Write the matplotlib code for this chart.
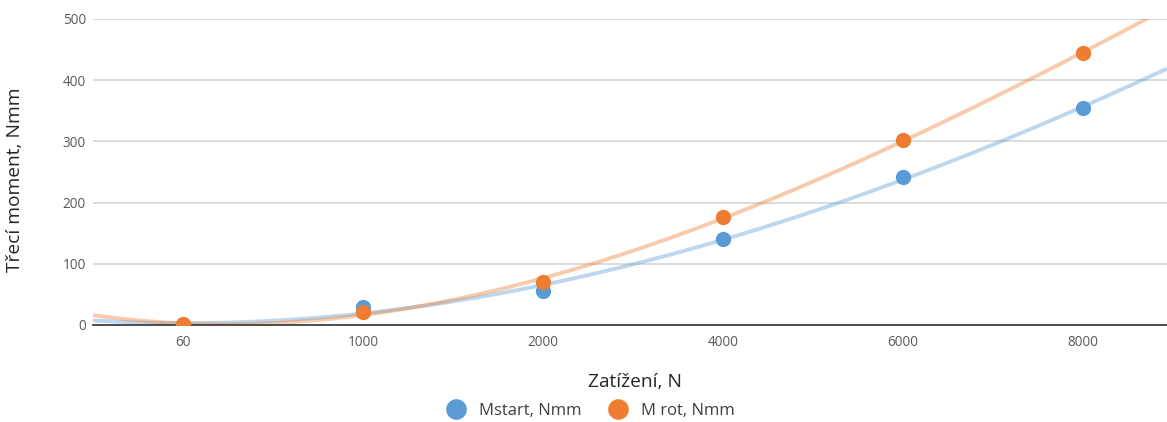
import numpy as np
import matplotlib
matplotlib.use("Agg")
import matplotlib.pyplot as plt

categories = ["60", "1000", "2000", "4000", "6000", "8000"]
mstart = [0, 29, 55, 140, 242, 355]
mrot = [1, 22, 70, 176, 302, 445]

blue = "#5B9BD5"
orange = "#ED7D31"
plt.rcParams['font.family'] = ['Open Sans', 'DejaVu Sans']

W, H = 1167, 422
fig = plt.figure(figsize=(W / 100, H / 100), dpi=100)
ax = fig.add_axes([93 / W, (H - 325) / H, 1 - 93 / W, (325 - 19) / H])

x = np.arange(len(categories))
xmin, xmax = -0.5, (W - 183) / 180
xs = np.linspace(xmin, xmax, 400)

for vals, col, lab in [(mstart, blue, "Mstart, Nmm"), (mrot, orange, "M rot, Nmm")]:
    # Excel-style polynomial (order 3) trendline on category index 1..n
    idx = x + 1
    coef = np.polyfit(idx, vals, 3)
    ax.plot(xs, np.polyval(coef, xs + 1), color=col, alpha=0.4, lw=2.8, zorder=2,
            solid_capstyle='butt')
    ax.plot(x, vals, 'o', color=col, ms=11, label=lab, zorder=3, markeredgewidth=0)

ax.set_xlim(xmin, xmax)
ax.set_ylim(0, 500)
ax.set_yticks(range(0, 501, 100))
ax.set_xticks(x)
ax.set_xticklabels(categories)
ax.grid(axis='y', color='#d9d9d9', lw=1.3)
ax.set_axisbelow(True)
for s in ['top', 'right', 'left']:
    ax.spines[s].set_visible(False)
ax.spines['bottom'].set_color('#404040')
ax.spines['bottom'].set_linewidth(1.3)
ax.tick_params(axis='both', length=0, labelsize=9.8, colors='#595959')
ax.tick_params(axis='y', pad=5)
ax.tick_params(axis='x', pad=7)

fig.text(15 / W, (H - 180) / H, "Třecí moment, Nmm", fontsize=13.8, color='#262626',
         rotation=90, ha='center', va='center')
fig.text(635 / W, (H - 382) / H, "Zatížení, N", fontsize=13.8, color='#262626',
         ha='center', va='center')

leg = fig.legend(loc='center', bbox_to_anchor=(590.5 / W, (H - 411) / H), ncol=2,
                 frameon=False, fontsize=12, markerscale=1.35, handlelength=1.2,
                 handletextpad=0.8, columnspacing=1.56, labelcolor='#404040',
                 borderpad=0.2)

fig.savefig("out.png", dpi=100)
